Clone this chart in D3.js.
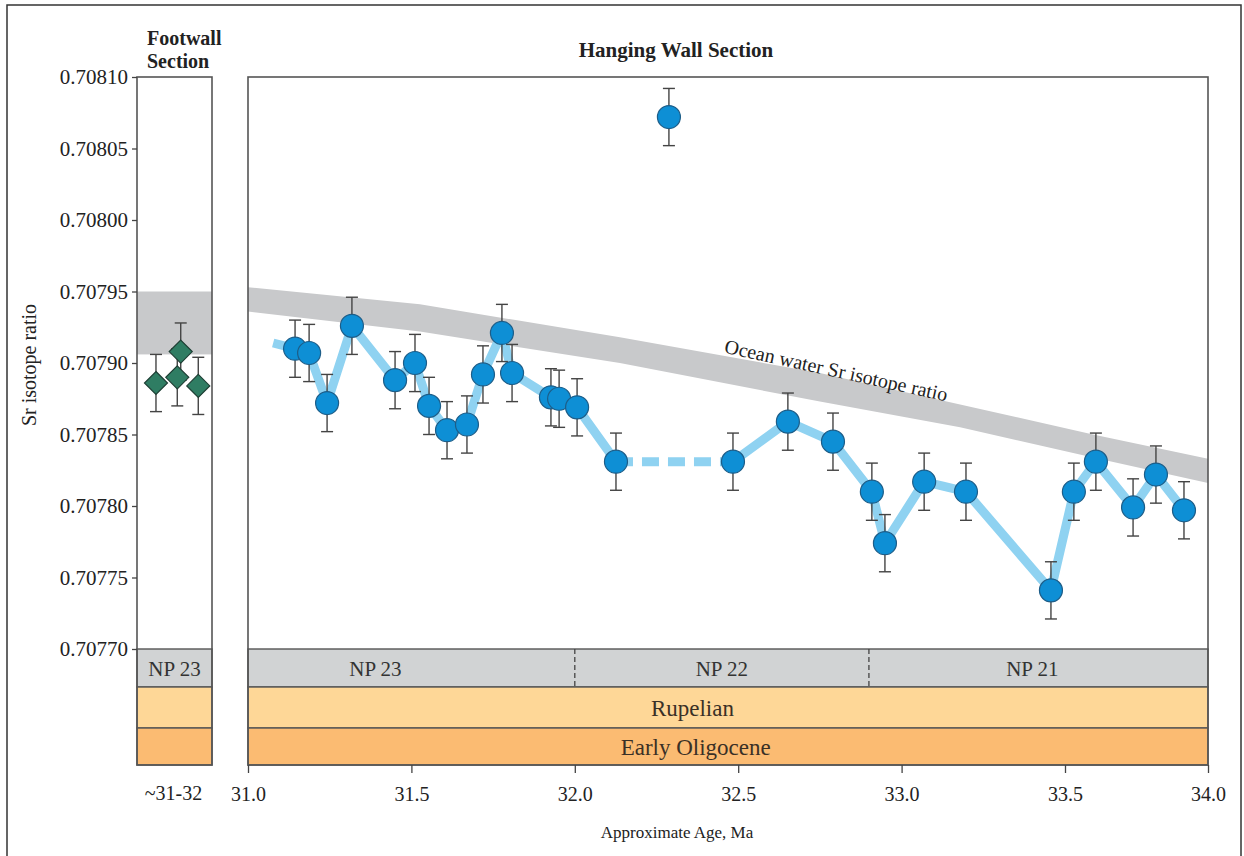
<!DOCTYPE html>
<html>
<head>
<meta charset="utf-8">
<title>Sr isotope ratio, footwall and hanging wall sections</title>
<script src="https://cdn.jsdelivr.net/npm/d3@7"></script>
<style>
  body { margin: 0; background: #fff; }
  svg { font-family: "Liberation Serif", "Times New Roman", serif; }
  .axis text { font-family: "Liberation Serif", "Times New Roman", serif; font-size: 20px; fill: #222; }
  .axis line { stroke: #444; stroke-width: 1.3; }
</style>
</head>
<body>
<svg id="chart" width="1244" height="856"></svg>
<script>
// ---- data ----
const yTicks = [0.7077, 0.70775, 0.7078, 0.70785, 0.7079, 0.70795, 0.708, 0.70805, 0.7081];
const xTicks = [31.0, 31.5, 32.0, 32.5, 33.0, 33.5, 34.0];

// hanging wall samples (age Ma, 87Sr/86Sr)
const hwAge = [31.144, 31.187, 31.242, 31.318, 31.450, 31.511, 31.554, 31.609, 31.670, 31.719,
               31.777, 31.808, 31.927, 31.952, 32.007, 32.126, 32.484, 32.652, 32.790, 32.909,
               32.949, 33.069, 33.197, 33.457, 33.531, 33.608, 33.738, 33.818, 33.916];
const hwSr  = [0.707910, 0.707907, 0.707872, 0.707926, 0.707888, 0.707900, 0.707870, 0.707853, 0.707857, 0.707892,
               0.707921, 0.707893, 0.707876, 0.707875, 0.707869, 0.707831, 0.707831, 0.707859, 0.707845, 0.707810,
               0.707774, 0.707817, 0.707810, 0.707741, 0.707810, 0.707831, 0.707799, 0.707822, 0.707797];
const srErr = 0.00002;
const outlier = { age: 32.288, sr: 0.708072 };
const leadIn = { age: 31.077, sr: 0.707914 };   // trend line starts a bit before the first sample
const dashedAfter = 15;                         // gap in sampling between 16th and 17th point

// footwall samples (relative position in the narrow panel)
const fwPos = [0.253, 0.537, 0.583, 0.817];
const fwSr  = [0.707886, 0.707890, 0.707908, 0.707884];
const fwBand = [0.707906, 0.707950];

// ocean water Sr isotope curve (band)
const oceanAge = [31.0, 31.526, 32.138, 32.75, 33.179, 33.598, 34.0];
const oceanHi  = [0.707953, 0.707941, 0.707918, 0.707893, 0.707871, 0.707850, 0.707833];
const oceanLo  = [0.707936, 0.707922, 0.707900, 0.707873, 0.707855, 0.707834, 0.707816];

// biostratigraphy / chronostratigraphy
const npZones = ["NP 23", "NP 22", "NP 21"];
const npEdges = [31.0, 32.0, 32.9, 34.0];
const npLabelAge = [31.39, 32.45, 33.40];
const stages = ["Rupelian", "Early Oligocene"];
const stageLabelAge = [32.36, 32.37];

// ---- layout ----
const svg = d3.select("#chart");
const plotTop = 77, plotBottom = 649;
const rows = [[649, 687], [687, 728], [728, 765]];
const rowFill = ["#d1d3d4", "#fed797", "#fbbb72"];
const fw = { left: 137, right: 212 };
const hw = { left: 248, right: 1208 };
const ink = "#555";

// the drawn axis keeps 31.0–33.5 evenly spaced and squeezes 34.0 to the panel edge
const x = d3.scaleLinear().domain([31, 33.5, 34]).range([hw.left, 1065, hw.right]);
const y = d3.scaleLinear().domain([0.7077, 0.7081]).range([plotBottom, plotTop]);
const xf = d3.scaleLinear().domain([0, 1]).range([fw.left, fw.right]);

// outer frame
svg.append("rect")
  .attr("x", 7).attr("y", 5).attr("width", 1234).attr("height", 860)
  .attr("fill", "none").attr("stroke", "#333").attr("stroke-width", 1.5);

// clip for hanging wall plot
svg.append("clipPath").attr("id", "hwclip")
  .append("rect").attr("x", hw.left).attr("y", plotTop)
  .attr("width", hw.right - hw.left).attr("height", plotBottom - plotTop);

// footwall grey band
svg.append("rect")
  .attr("x", fw.left).attr("width", fw.right - fw.left)
  .attr("y", y(fwBand[1])).attr("height", y(fwBand[0]) - y(fwBand[1]))
  .attr("fill", "#c8c9cb");

// ocean water band
const ocean = oceanAge.map((a, i) => ({ age: a, hi: oceanHi[i], lo: oceanLo[i] }));
svg.append("path")
  .datum(ocean)
  .attr("clip-path", "url(#hwclip)")
  .attr("fill", "#c8c9cb")
  .attr("d", d3.area().x(d => x(d.age)).y0(d => y(d.lo)).y1(d => y(d.hi)));

svg.append("text")
  .attr("transform", `translate(${x(32.80)},${y(0.707895)}) rotate(12.4)`)
  .attr("text-anchor", "middle").attr("dominant-baseline", "central")
  .attr("font-size", 20).attr("fill", "#222")
  .text("Ocean water Sr isotope ratio");

// strat rows for both panels
[fw, hw].forEach(p => {
  rows.forEach((r, i) => {
    svg.append("rect")
      .attr("x", p.left).attr("y", r[0])
      .attr("width", p.right - p.left).attr("height", r[1] - r[0])
      .attr("fill", rowFill[i]).attr("stroke", ink).attr("stroke-width", 1.4);
  });
  svg.append("rect")
    .attr("x", p.left).attr("y", plotTop)
    .attr("width", p.right - p.left).attr("height", rows[2][1] - plotTop)
    .attr("fill", "none").attr("stroke", ink).attr("stroke-width", 1.6);
});

// NP zone boundaries (dashed)
svg.selectAll(".npedge")
  .data(npEdges.slice(1, -1))
  .join("line")
  .attr("x1", d => x(d)).attr("x2", d => x(d))
  .attr("y1", rows[0][0]).attr("y2", rows[0][1])
  .attr("stroke", "#444").attr("stroke-width", 1.3).attr("stroke-dasharray", "5,3");

svg.selectAll(".nplab")
  .data(npZones)
  .join("text")
  .attr("x", (d, i) => x(npLabelAge[i])).attr("y", (rows[0][0] + rows[0][1]) / 2 + 1)
  .attr("text-anchor", "middle").attr("dominant-baseline", "central")
  .attr("font-size", 21).attr("fill", "#333")
  .text(d => d);

svg.append("text")
  .attr("x", (fw.left + fw.right) / 2).attr("y", (rows[0][0] + rows[0][1]) / 2 + 1)
  .attr("text-anchor", "middle").attr("dominant-baseline", "central")
  .attr("font-size", 21).attr("fill", "#333")
  .text(npZones[0]);

svg.selectAll(".stagelab")
  .data(stages)
  .join("text")
  .attr("x", (d, i) => x(stageLabelAge[i]))
  .attr("y", (d, i) => (rows[i + 1][0] + rows[i + 1][1]) / 2 + 1)
  .attr("text-anchor", "middle").attr("dominant-baseline", "central")
  .attr("font-size", 23).attr("fill", "#3a3026")
  .text(d => d);

// trend line through hanging wall samples
const pts = hwAge.map((a, i) => ({ age: a, sr: hwSr[i] }));
const line = d3.line().x(d => x(d.age)).y(d => y(d.sr));
const trendStyle = sel => sel
  .attr("fill", "none").attr("stroke", "#8fd2f1")
  .attr("stroke-width", 9).attr("stroke-linejoin", "round");

svg.append("path").datum([leadIn, ...pts.slice(0, dashedAfter + 1)]).call(trendStyle).attr("d", line);
svg.append("path").datum(pts.slice(dashedAfter, dashedAfter + 2)).call(trendStyle)
  .attr("stroke-dasharray", "17,9").attr("d", line);
svg.append("path").datum(pts.slice(dashedAfter + 1)).call(trendStyle).attr("d", line);

// error bars
function errorBars(data, px) {
  const g = svg.append("g").attr("stroke", "#444").attr("stroke-width", 1.4);
  data.forEach(d => {
    const cx = px(d);
    g.append("line").attr("x1", cx).attr("x2", cx)
      .attr("y1", y(d.sr + srErr)).attr("y2", y(d.sr - srErr));
    [d.sr + srErr, d.sr - srErr].forEach(v => {
      g.append("line").attr("x1", cx - 6).attr("x2", cx + 6)
        .attr("y1", y(v)).attr("y2", y(v));
    });
  });
}
const hwAll = [...pts, outlier];
errorBars(hwAll, d => x(d.age));

const fwPts = fwPos.map((p, i) => ({ pos: p, sr: fwSr[i] }));
errorBars(fwPts, d => xf(d.pos));

// markers
svg.selectAll(".hwpt")
  .data(hwAll)
  .join("circle")
  .attr("cx", d => x(d.age)).attr("cy", d => y(d.sr)).attr("r", 11.5)
  .attr("fill", "#0e8fd5").attr("stroke", "#1d5d88").attr("stroke-width", 1.2);

svg.selectAll(".fwpt")
  .data(fwPts)
  .join("path")
  .attr("transform", d => `translate(${xf(d.pos)},${y(d.sr)})`)
  .attr("d", "M0,-11.5L11.5,0L0,11.5L-11.5,0Z")
  .attr("fill", "#2f7d63").attr("stroke", "#1e3f34").attr("stroke-width", 1.2);

// axes
const yAxis = svg.append("g").attr("class", "axis")
  .attr("transform", `translate(${fw.left},0)`)
  .call(d3.axisLeft(y).tickValues(yTicks).tickFormat(d3.format(".5f")).tickSize(5).tickPadding(4));
yAxis.select(".domain").remove();
yAxis.selectAll("text").style("font-size", "21px");

const xAxis = svg.append("g").attr("class", "axis")
  .attr("transform", `translate(0,${rows[2][1]})`)
  .call(d3.axisBottom(x).tickValues(xTicks).tickFormat(d3.format(".1f")).tickSize(8).tickPadding(14));
xAxis.select(".domain").remove();

svg.append("text")
  .attr("x", (fw.left + fw.right) / 2 - 1).attr("y", rows[2][1] + 35)
  .attr("text-anchor", "middle").attr("font-size", 20).attr("fill", "#222")
  .text("~31-32");

svg.append("text")
  .attr("x", 677).attr("y", 838)
  .attr("text-anchor", "middle").attr("font-size", 17).attr("fill", "#222")
  .text("Approximate Age, Ma");

svg.append("text")
  .attr("transform", `translate(36,${(plotTop + plotBottom) / 2 + 2}) rotate(-90)`)
  .attr("text-anchor", "middle").attr("font-size", 20).attr("fill", "#222")
  .text("Sr isotope ratio");

// panel titles
svg.append("text")
  .attr("x", 147).attr("y", 45)
  .attr("font-size", 20).attr("font-weight", "bold").attr("fill", "#222")
  .selectAll("tspan").data(["Footwall", "Section"]).join("tspan")
  .attr("x", 147).attr("dy", (d, i) => i ? 23 : 0).text(d => d);

svg.append("text")
  .attr("x", (hw.left + hw.right) / 2 - 52).attr("y", 57)
  .attr("text-anchor", "middle")
  .attr("font-size", 21).attr("font-weight", "bold").attr("fill", "#222")
  .text("Hanging Wall Section");
</script>
</body>
</html>
